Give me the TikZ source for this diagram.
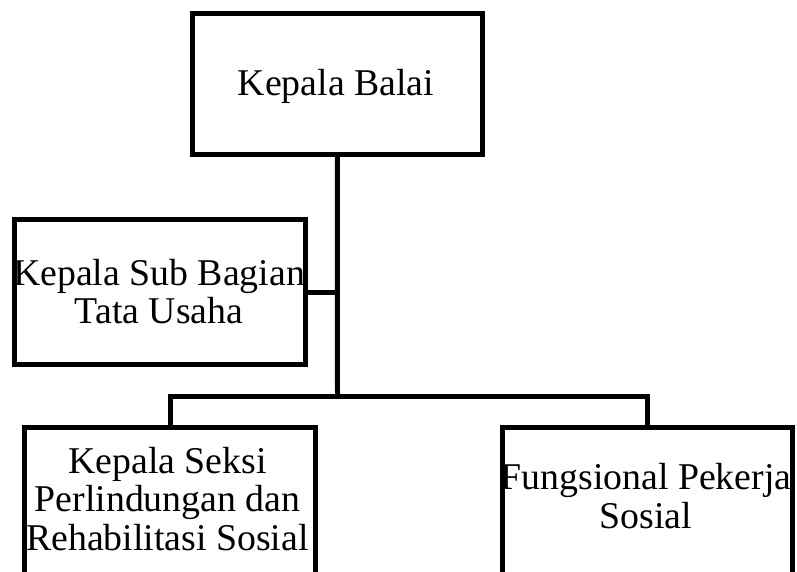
\documentclass[tikz,border=0pt]{standalone}
\usepackage{fontspec}
\setmainfont{Liberation Serif}
\begin{document}
\begin{tikzpicture}[x=1pt,y=-1pt,
  box/.style={draw=black,line width=5pt,rectangle,inner sep=0pt,fill=none},
  lbl/.style={align=center,inner sep=0pt,font=\fontsize{37.8}{38.5}\selectfont},
  conn/.style={draw=black,line width=5pt,line join=miter}]
\useasboundingbox (0,0) rectangle (797,572);
\fill[white] (0,0) rectangle (797,572);
% boxes
\node[box,minimum width=289.5pt,minimum height=140.5pt] (A) at (337.25,84.25) {};
\node[box,minimum width=291pt,minimum height=145pt] (B) at (160,292) {};
\node[box,minimum width=291pt,minimum height=152.5pt] (C) at (170,503.75) {};
\node[box,minimum width=290pt,minimum height=152.5pt] (D) at (647.5,503.75) {};
% labels
\node[lbl] (tA) at (336,86.5) {Kepala Balai};
\node[lbl] (tB) at (159,291.5) {Kepala Sub Bagian\\Tata Usaha};
\node[lbl] (tC) at (167.5,499) {Kepala Seksi\\Perlindungan dan\\Rehabilitasi Sosial};
\node[lbl] (tD) at (646,496) {Fungsional Pekerja\\Sosial};
% connectors
\coordinate (j) at (337.5,396.5);
\draw[conn] (A.south) -- (j);
\draw[conn] (B.east) -- (A.south |- B.east);
\draw[conn] (C.north) -- (C.north |- j) -- (D.north |- j) -- (D.north);
\end{tikzpicture}
\end{document}
